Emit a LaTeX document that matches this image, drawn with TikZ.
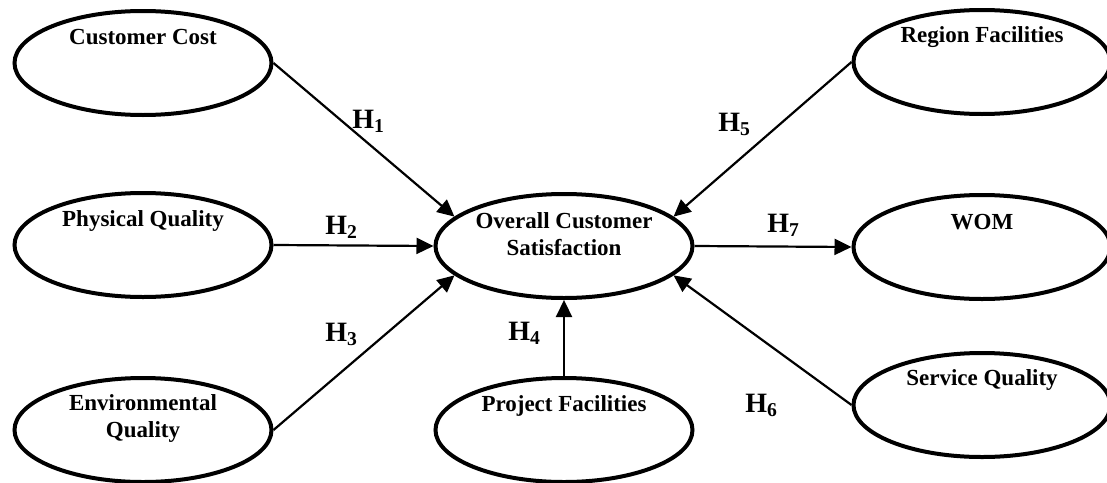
\documentclass[tikz,border=0pt]{standalone}
\usepackage{fontspec}
\setmainfont{Liberation Serif}
\usetikzlibrary{arrows.meta,shapes.geometric}

\tikzset{
	construct/.style = {ellipse, draw, line width=2pt, minimum width=128.5pt, minimum height=52pt, inner sep=0pt},
	ctext/.style = {font=\fontsize{11.5}{13.5}\selectfont\bfseries, align=center, inner sep=0pt},
	hyp/.style = {font=\fontsize{14}{16}\selectfont\bfseries, inner sep=0pt, anchor=base west},
	link/.style = {-{Triangle[length=8.5pt,width=8pt]}, line width=1.1pt}
}

\begin{document}
\begin{tikzpicture}[x=0.5pt, y=-0.5pt]
			
			\useasboundingbox (0,0) rectangle (1107,482);
			
			% constructs
			\node[construct] (cc) at (143,63) {};
			\node[construct] (pq) at (143,245) {};
			\node[construct] (eq) at (143,430) {};
			\node[construct] (ocs) at (564,246) {};
			\node[construct] (pf) at (564,430) {};
			\node[construct] (rf) at (982,62) {};
			\node[construct] (wom) at (982,247) {};
			\node[construct] (sq) at (982,405) {};
			
			\node[ctext] (cc-t) at ([yshift=13pt]cc.center) {Customer Cost};
			\node[ctext] (pq-t) at ([yshift=12pt]pq.center) {Physical Quality};
			\node[ctext] (eq-t) at ([yshift=6pt]eq.center) {Environmental\\Quality};
			\node[ctext] (ocs-t) at ([yshift=6pt]ocs.center) {Overall Customer\\Satisfaction};
			\node[ctext] (pf-t) at ([yshift=12pt]pf.center) {Project Facilities};
			\node[ctext] (rf-t) at ([yshift=12.5pt]rf.center) {Region Facilities};
			\node[ctext] (wom-t) at ([yshift=12.5pt]wom.center) {WOM};
			\node[ctext] (sq-t) at ([yshift=12.5pt]sq.center) {Service Quality};
			
			% hypotheses
			\draw[link] (cc.east) -- (ocs.165);
			\draw[link] (pq.east) -- (ocs.west);
			\draw[link] (eq.east) -- (ocs.195);
			\draw[link] (pf.north) -- (ocs.south);
			\draw[link] (rf.west) -- (ocs.15);
			\draw[link] (sq.west) -- (ocs.345);
			\draw[link] (ocs.east) -- (wom.west);
			
			\node[hyp] (h1) at (352,128) {H\textsubscript{1}};
			\node[hyp] (h2) at (325,234) {H\textsubscript{2}};
			\node[hyp] (h3) at (325,341) {H\textsubscript{3}};
			\node[hyp] (h4) at (508,340) {H\textsubscript{4}};
			\node[hyp] (h5) at (718,131) {H\textsubscript{5}};
			\node[hyp] (h6) at (745,412) {H\textsubscript{6}};
			\node[hyp] (h7) at (767,232) {H\textsubscript{7}};
			
\end{tikzpicture}
\end{document}
